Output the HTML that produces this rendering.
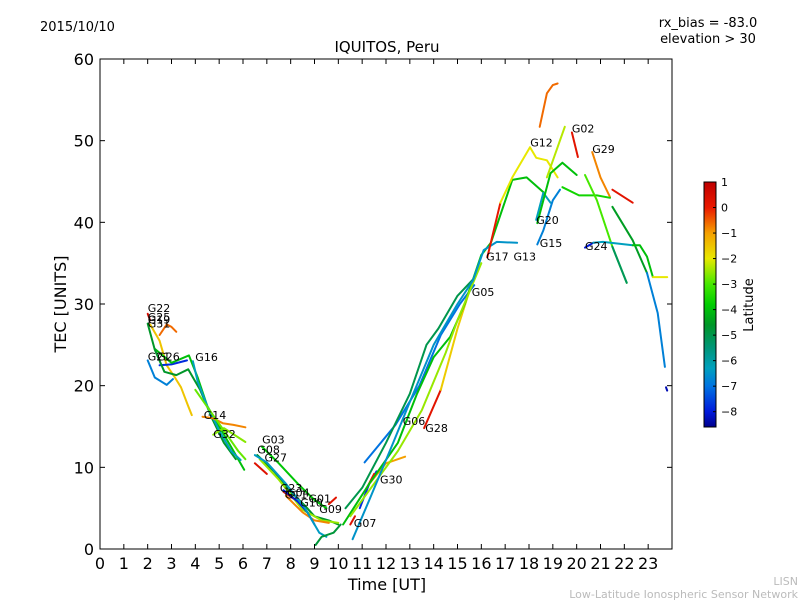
<!DOCTYPE html>
<html><head><meta charset="utf-8">
<style>
body{margin:0;background:#fff;}
svg{display:block;font-family:"DejaVu Sans","Liberation Sans",sans-serif;}
</style></head>
<body>
<svg id="chart" width="800" height="600" xmlns="http://www.w3.org/2000/svg">
<rect width="800" height="600" fill="#fff"/>
<text x="40" y="31" font-size="13">2015/10/10</text>
<text x="708" y="27" font-size="13" text-anchor="middle">rx_bias = -83.0</text>
<text x="708" y="43" font-size="13" text-anchor="middle">elevation &gt; 30</text>
<text x="387" y="52" font-size="15" text-anchor="middle">IQUITOS, Peru</text>
<text x="387" y="590" font-size="16" text-anchor="middle">Time [UT]</text>
<text transform="translate(66,304) rotate(-90)" font-size="16" text-anchor="middle">TEC [UNITS]</text>
<text x="798" y="585" font-size="11" fill="#bbb" text-anchor="end">LISN</text>
<text x="798" y="598" font-size="11" fill="#bbb" text-anchor="end">Low-Latitude Ionospheric Sensor Network</text>
<g id="marks"></g>
<g id="axes"></g>
<g id="cbar"></g>
</svg>
<script>
const xTicks=[0,1,2,3,4,5,6,7,8,9,10,11,12,13,14,15,16,17,18,19,20,21,22,23];
const yTicks=[0,10,20,30,40,50,60];
const cbTicks=[1,0,-1,-2,-3,-4,-5,-6,-7,-8];
const trackHours=[
[2.0,2.1],
[2.1,2.5,2.8,3.1,3.4,3.7,3.85],
[2.5,2.8,3.0,3.2],
[2.0,2.3,2.8,3.06],
[2.5,3.0,3.65],
[2.3,3.0,3.73,4.1,4.5,5.0,5.5,6.05],
[2.0,2.3,2.7,3.2,3.7,4.2,4.7,5.2,5.7],
[3.9,4.1,4.5,5.0,5.5,5.9],
[4.3,4.75,5.15,5.6,6.1],
[4.75,5.2,6.1],
[4.0,4.6,5.2,5.8,6.1],
[6.5,7.0],
[7.7,8.3,8.6],
[6.6,7.3,8.0,8.6,9.0,9.6,10.0],
[6.8,7.5,8.3,9.0,9.5],
[6.7,7.5,8.5,9.3,10.0],
[7.8,8.5,9.0,9.6],
[7.7,8.3,8.7,9.0],
[6.5,7.0,7.8,8.6,9.2,9.5],
[9.05,9.3,9.8,10.1],
[9.6,9.9],
[10.5,10.7],
[10.9,11.3,11.6],
[11.2,11.5],
[11.3,12.0,12.8],
[11.1,12.4,13.4,14.3,15.1,15.7],
[13.6,14.3],
[14.3,15.0,15.6],
[10.2,11.3,12.5,13.3,14.0,14.7,15.3,16.0,16.4,17.3,17.9,18.6],
[10.5,11.5,12.5,13.5,14.5,15.0,15.5,16.0],
[10.3,11.0,12.0,13.0,13.7,14.2,15.0,15.65],
[10.6,11.3,12.3,13.0,14.0,15.0,15.65,16.1,16.65,17.5],
[16.25,16.8],
[16.8,17.3,18.04,18.3,18.75,19.2],
[18.3,18.6,18.9],
[18.35,18.6,19.0,19.3],
[18.35,18.9,19.4,20.0],
[18.75,19.2,19.5],
[18.45,18.75,19.0,19.2],
[19.8,20.05],
[20.65,21.0,21.4],
[21.5,22.35],
[19.4,20.1,20.85,21.4],
[21.5,22.35,22.95],
[22.95,23.4,23.7],
[23.75,23.8],
[20.35,20.85,21.5,22.1],
[20.35,20.7],
[20.7,21.1,22.35],
[22.35,22.65,22.95,23.2],
[23.2,23.8],
[21.5,22.1]
];
const trackTec=[
[28.8,28.0],
[27.5,25.5,22.5,21.2,19.8,17.5,16.4],
[26.2,27.5,27.2,26.6],
[23.1,21.0,20.1,20.8],
[22.5,22.6,23.1],
[24.5,22.8,23.7,21.0,17.5,15.0,12.5,9.7],
[27.6,24.4,21.7,21.3,22.0,19.5,16.0,13.0,11.0],
[23.0,20.5,17.5,14.5,12.0,10.9],
[16.2,16.0,15.4,15.2,14.9],
[14.0,14.8,13.1],
[19.5,17.0,14.5,12.0,11.0],
[10.5,9.2],
[7.0,5.8,5.2],
[11.5,9.5,7.0,5.3,4.0,3.5,3.0],
[12.5,10.5,8.0,6.0,5.0],
[11.0,8.5,4.8,3.5,3.2],
[6.5,4.5,3.5,3.2],
[7.2,5.8,4.5,3.0],
[11.5,10.6,8.0,5.0,2.0,1.5],
[0.5,1.5,2.0,3.0],
[5.5,6.3],
[3.0,4.0],
[5.0,8.0,9.5],
[7.5,9.2],
[8.0,10.5,11.3],
[10.6,15.2,20.0,26.2,30.0,32.3],
[14.8,19.5],
[19.5,27.0,32.5],
[3.0,8.0,13.0,19.0,23.5,26.0,30.0,36.0,37.5,45.2,45.5,43.7],
[4.0,8.0,12.0,17.0,24.0,28.0,31.5,35.0],
[5.0,7.5,13.0,19.0,25.0,27.0,31.0,33.0],
[1.2,6.0,13.0,18.0,25.0,30.0,32.9,36.6,37.6,37.5],
[35.7,42.4],
[42.4,45.5,49.2,47.9,47.6,45.5],
[40.3,43.6,42.4],
[37.3,39.0,42.7,44.0],
[39.9,46.0,47.3,45.8],
[45.5,49.2,51.7],
[51.7,55.8,56.8,57.0],
[51.0,48.0],
[48.6,45.5,43.1],
[44.0,42.4],
[44.3,43.3,43.3,43.0],
[41.9,37.8,33.8],
[33.8,28.9,22.3],
[19.8,19.4],
[45.8,42.7,37.0,32.6],
[36.9,37.5],
[37.5,37.6,37.2],
[37.2,37.2,35.8,33.3],
[33.3,33.3],
[37.0,32.6]
];
const trackLat=[0.5,-1.5,-0.6,-6.8,-7.8,-4.0,-4.6,-6.3,-0.8,-2.6,-2.8,0.3,0.3,-4.6,-3.9,-2.5,-0.8,-8.0,-6.4,-4.8,0.2,0.3,-7.8,0.2,-1.0,-7.0,0.2,-1.6,-4.0,-2.5,-5.0,-6.5,0.1,-2.0,-6.3,-6.8,-4.0,-2.3,-0.6,0.2,-0.8,0.2,-3.6,-4.5,-6.8,-8.3,-3.0,-8.0,-6.3,-4.0,-2.0,-5.2];
const satLabels=["G22","G25","G19","G31","G21","G26","G16","G14","G32","G03","G08","G27","G23","G04","G11","G10","G01","G09","G07","G30","G06","G28","G05","G17","G13","G15","G20","G12","G02","G29","G24"];
const labelHours=[2.0,2.0,2.0,2.0,2.0,2.4,4.0,4.35,4.75,6.8,6.6,6.9,7.55,7.85,7.75,8.4,8.75,9.2,10.65,11.75,12.7,13.65,15.6,16.2,17.35,18.45,18.3,18.05,19.8,20.65,20.35];
const labelTec=[29.0,27.9,27.6,27.1,23.1,23.1,23.0,15.9,13.6,12.9,11.7,10.7,7.0,6.4,6.2,5.2,5.7,4.4,2.7,8.0,15.2,14.3,31.0,35.3,35.3,37.0,39.8,49.3,51.0,48.5,36.6];

const svgNS="http://www.w3.org/2000/svg";
const X0=100,X1=672,Y0=549,Y1=59;
function xs(h){return X0+h*(X1-X0)/24;}
function ys(v){return Y0-v*(Y0-Y1)/60;}
const CB_TOP=182,CB_BOT=427,CB_MAX=1.0,CB_MIN=-8.6;
function cys(v){return CB_TOP+(CB_MAX-v)*(CB_BOT-CB_TOP)/(CB_MAX-CB_MIN);}
const cmapStops=[[1.0,[190,0,0]],[0.0,[235,25,0]],[-1.0,[245,160,0]],[-2.0,[232,232,0]],[-3.0,[70,232,0]],[-3.8,[0,205,0]],[-4.6,[0,150,40]],[-5.5,[0,150,120]],[-6.3,[0,160,190]],[-7.0,[0,115,225]],[-8.0,[0,25,220]],[-8.6,[0,0,140]]];
function cmap(v){
 if(v>=cmapStops[0][0])return 'rgb('+cmapStops[0][1].join(',')+')';
 for(let i=0;i<cmapStops.length-1;i++){const a=cmapStops[i],b=cmapStops[i+1];
  if(v<=a[0]&&v>=b[0]){const t=(a[0]-v)/(a[0]-b[0]);
   return 'rgb('+a[1].map((c,k)=>Math.round(c+(b[1][k]-c)*t)).join(',')+')';}}
 return 'rgb('+cmapStops[cmapStops.length-1][1].join(',')+')';
}
function mk(tag,attrs,parent){const e=document.createElementNS(svgNS,tag);for(const k in attrs)e.setAttribute(k,attrs[k]);parent.appendChild(e);return e;}

const marks=document.getElementById('marks');
for(let i=0;i<trackHours.length;i++){
 const pts=trackHours[i].map((h,j)=>xs(h).toFixed(1)+','+ys(trackTec[i][j]).toFixed(1)).join(' ');
 const p=mk('polyline',{points:pts,fill:'none',stroke:cmap(trackLat[i]),'stroke-width':2,'stroke-linejoin':'round','stroke-linecap':'round'},marks);
 
 
}
for(let i=0;i<satLabels.length;i++){
 const t=mk('text',{x:xs(labelHours[i]).toFixed(1),y:ys(labelTec[i]).toFixed(1),'font-size':11},marks);
 t.textContent=satLabels[i];
 
 
}
const axes=document.getElementById('axes');
const frame=mk('rect',{x:X0,y:Y1,width:X1-X0,height:Y0-Y1,fill:'none',stroke:'#000','stroke-width':1},axes);


xTicks.forEach(h=>{const x=xs(h);
 mk('line',{x1:x,x2:x,y1:Y0,y2:Y0-5,stroke:'#000'},axes);
 mk('line',{x1:x,x2:x,y1:Y1,y2:Y1+5,stroke:'#000'},axes);
 const t=mk('text',{x:x,y:Y0+20,'font-size':16,'text-anchor':'middle'},axes);t.textContent=h;
 
 
});
yTicks.forEach(v=>{const y=ys(v);
 mk('line',{x1:X0,x2:X0+5,y1:y,y2:y,stroke:'#000'},axes);
 mk('line',{x1:X1,x2:X1-5,y1:y,y2:y,stroke:'#000'},axes);
 const t=mk('text',{x:X0-6,y:y+6,'font-size':16,'text-anchor':'end'},axes);t.textContent=v;
 
 
});
const cb=document.getElementById('cbar');
const cbx=704,cbw=12;
for(let y=CB_TOP;y<CB_BOT;y++){
 const v=CB_MAX-(y-CB_TOP+0.5)*(CB_MAX-CB_MIN)/(CB_BOT-CB_TOP);
 mk('rect',{x:cbx,y:y,width:cbw,height:1.2,fill:cmap(v)},cb);
}
const cbf=mk('rect',{x:cbx,y:CB_TOP,width:cbw,height:CB_BOT-CB_TOP,fill:'none',stroke:'#000'},cb);


cbTicks.forEach(v=>{const y=cys(v);
 mk('line',{x1:cbx+cbw-3,x2:cbx+cbw,y1:y,y2:y,stroke:'#000'},cb);
 const t=mk('text',{x:cbx+cbw+5,y:y+4,'font-size':11},cb);t.textContent=v===0?'0':(v<0?'\u2212'+(-v):v);
 
 
});
const cl=mk('text',{transform:'translate(753,305) rotate(-90)','font-size':13,'text-anchor':'middle'},cb);
cl.textContent='Latitude';


</script>
</body></html>
